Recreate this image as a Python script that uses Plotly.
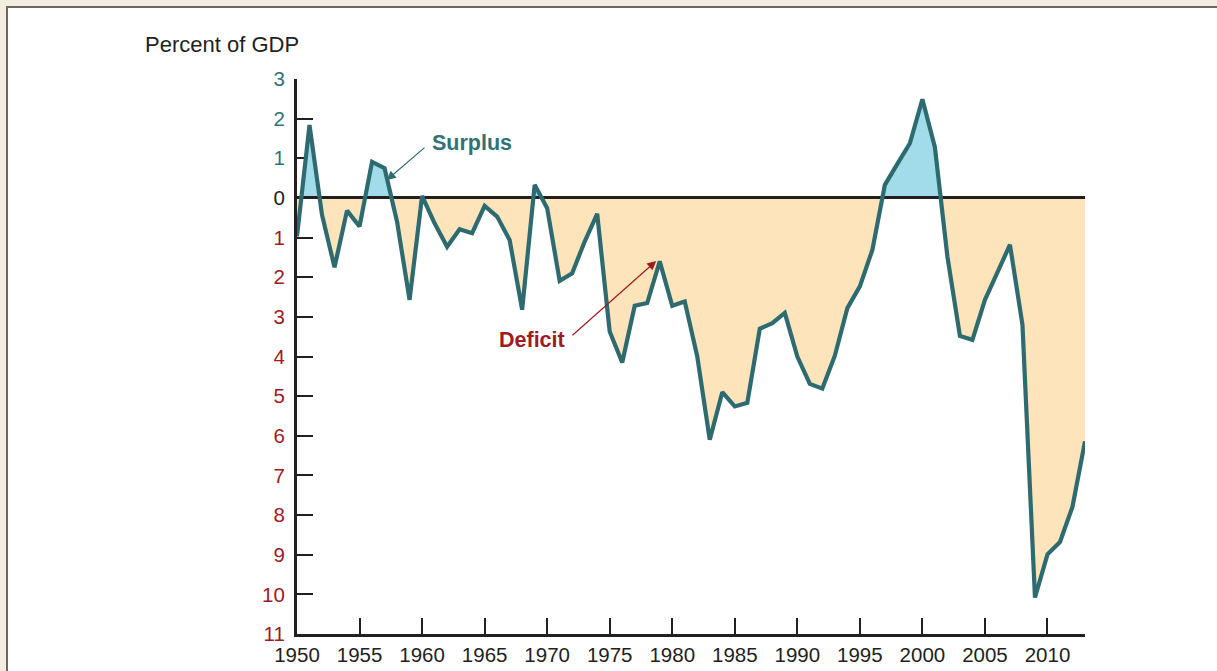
import plotly.graph_objects as go

years = list(range(1950, 2014))
balance = [
    -0.97, 1.84, -0.43, -1.75, -0.32, -0.72, 0.91, 0.75, -0.60, -2.57,
    0.05, -0.64, -1.23, -0.79, -0.89, -0.20, -0.47, -1.06, -2.82, 0.33,
    -0.26, -2.09, -1.90, -1.10, -0.40, -3.37, -4.15, -2.72, -2.65, -1.60,
    -2.72, -2.61, -4.00, -6.10, -4.90, -5.26, -5.17, -3.30, -3.16, -2.90,
    -4.00, -4.69, -4.81, -3.98, -2.78, -2.23, -1.31, 0.33, 0.86, 1.38,
    2.49, 1.28, -1.48, -3.48, -3.58, -2.57, -1.88, -1.18, -3.20, -10.08,
    -8.99, -8.68, -7.79, -6.14,
]
x_ticks = list(range(1950, 2011, 5))
y_ticks = list(range(-11, 4))

TEAL = "#2E6B70"
TEAL_TXT = "#2F7377"
RED = "#9E1B20"
DARK = "#231F20"
PEACH = "#FDE4BA"
BLUE = "#A2DCEA"
FONT = "Liberation Sans, Arial, sans-serif"


def tick_label(v):
    if v > 0:
        c = TEAL_TXT
    elif v < 0:
        c = RED
    else:
        c = DARK
    return f"<span style='color:{c}'>{abs(v)}</span>"


y_text = [tick_label(v) for v in y_ticks]

fig = go.Figure()
# deficit fill (whole series to zero; surplus part covered by blue fill)
fig.add_trace(go.Scatter(x=years, y=balance, mode="lines", fill="tozeroy",
                         fillcolor=PEACH, line=dict(width=0), xaxis="x", yaxis="y",
                         hoverinfo="skip", showlegend=False))
# surplus fill, clipped to the positive part of the axis
fig.add_trace(go.Scatter(x=years, y=balance, mode="lines", fill="tozeroy",
                         fillcolor=BLUE, line=dict(width=0), xaxis="x", yaxis="y2",
                         hoverinfo="skip", showlegend=False))
# main line
fig.add_trace(go.Scatter(x=years, y=balance, mode="lines",
                         line=dict(color=TEAL, width=4.2), xaxis="x", yaxis="y3",
                         showlegend=False))

zero_frac = 11 / 14

fig.update_layout(
    width=1217, height=671,
    margin=dict(l=297, r=132, t=79, b=37, pad=0, autoexpand=False),
    paper_bgcolor="#F3EDDF",
    plot_bgcolor="rgba(0,0,0,0)",
    font=dict(family=FONT, size=20, color=DARK),
    xaxis=dict(range=[1950, 2013], domain=[0, 1], anchor="y", automargin=False,
               showline=True, linewidth=3, linecolor=DARK,
               ticks="inside", ticklen=16, tickwidth=1.5, tickcolor=DARK,
               tickvals=x_ticks, ticktext=[str(v) for v in x_ticks],
               tickfont=dict(size=20.5, color=DARK),
               showgrid=False, zeroline=False, fixedrange=True),
    yaxis=dict(range=[-11, 3], domain=[0, 1], anchor="x", automargin=False,
               showline=True, linewidth=3, linecolor=DARK,
               ticks="inside", ticklen=16, tickwidth=1.5, tickcolor=DARK,
               tickvals=y_ticks, ticktext=y_text,
               tickfont=dict(size=20.5),
               ticklabelstandoff=5,
               showgrid=False, zeroline=False, fixedrange=True),
    yaxis2=dict(range=[0, 3], domain=[zero_frac, 1], anchor="x", automargin=False,
                visible=False, showgrid=False, zeroline=False, fixedrange=True),
    yaxis3=dict(range=[-11, 3], domain=[0, 1], anchor="x", automargin=False,
                showline=False, showticklabels=False, ticks="", fixedrange=True,
                showgrid=False, zeroline=True, zerolinecolor=DARK, zerolinewidth=3),
    shapes=[dict(type="rect", xref="paper", yref="paper",
                 x0=(7 - 297) / 788, x1=(1240 - 297) / 788,
                 y0=(634 - 700) / 555, y1=(634 - 7) / 555,
                 fillcolor="white", line=dict(color="#6B6862", width=2),
                 layer="below")],
    annotations=[
        dict(text="Percent of GDP", xref="paper", yref="paper",
             x=(143 - 297) / 788, y=(634 - 45) / 555,
             xanchor="left", yanchor="middle", showarrow=False,
             font=dict(size=22, color=DARK)),
        dict(text="<b>Surplus</b>", x=1957.18, y=0.45, xref="x", yref="y3",
             ax=43, ay=-37, xanchor="left", yanchor="middle",
             showarrow=True, arrowhead=2, arrowsize=1.5,
             arrowwidth=1.2, arrowcolor=TEAL, standoff=0, startstandoff=7,
             font=dict(size=21.5, color=TEAL_TXT)),
        dict(text="<b>Deficit</b>", x=1978.72, y=-1.59, xref="x", yref="y3",
             ax=-89, ay=79, xanchor="right", yanchor="middle",
             showarrow=True, arrowhead=2, arrowsize=1.5,
             arrowwidth=1.2, arrowcolor=RED, standoff=0, startstandoff=7,
             font=dict(size=21.5, color=RED)),
    ],
)

fig.write_html(
    "out.html",
    config={"displayModeBar": False},
    post_script="document.body.style.margin='0';document.body.style.overflow='hidden';",
)
